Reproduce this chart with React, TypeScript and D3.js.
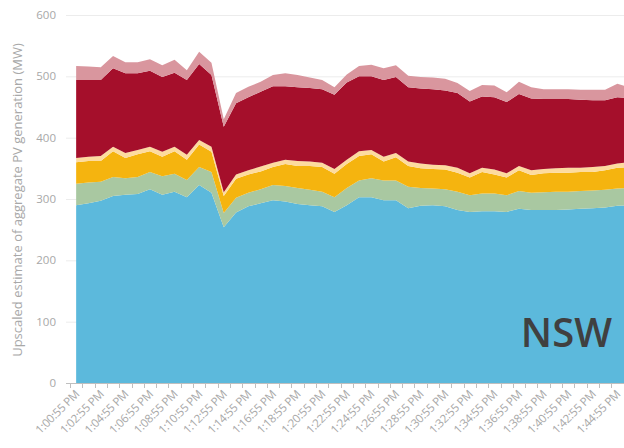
import * as d3 from 'd3';
import React, { useEffect, useRef } from 'react';

// one sample per minute
const times = [
	'1:00:55 PM', '1:01:55 PM', '1:02:55 PM', '1:03:55 PM', '1:04:55 PM', '1:05:55 PM',
	'1:06:55 PM', '1:07:55 PM', '1:08:55 PM', '1:09:55 PM', '1:10:55 PM', '1:11:55 PM',
	'1:12:55 PM', '1:13:55 PM', '1:14:55 PM', '1:15:55 PM', '1:16:55 PM', '1:17:55 PM',
	'1:18:55 PM', '1:19:55 PM', '1:20:55 PM', '1:21:55 PM', '1:22:55 PM', '1:23:55 PM',
	'1:24:55 PM', '1:25:55 PM', '1:26:55 PM', '1:27:55 PM', '1:28:55 PM', '1:29:55 PM',
	'1:30:55 PM', '1:31:55 PM', '1:32:55 PM', '1:33:55 PM', '1:34:55 PM', '1:35:55 PM',
	'1:36:55 PM', '1:37:55 PM', '1:38:55 PM', '1:39:55 PM', '1:40:55 PM', '1:41:55 PM',
	'1:42:55 PM', '1:43:55 PM', '1:44:55 PM', '1:45:55 PM',
];

// stacked layers, bottom to top (MW)
const blue = [
	290, 293, 297, 305, 307, 308, 316, 307, 312, 303, 323, 310, 254, 278, 288, 293,
	298, 296, 292, 290, 288, 279, 290, 303, 303, 298, 298, 285, 289, 290, 288, 282,
	279, 280, 280, 279, 284, 282, 282, 282, 283, 284, 285, 286, 289, 290,
];
const green = [
	35, 34, 31, 31, 27, 28, 28, 30, 29, 28, 29, 34, 23, 24, 22, 23,
	25, 25, 26, 25, 24, 24, 28, 27, 31, 32, 32, 35, 29, 27, 28, 30,
	27, 29, 29, 27, 29, 28, 29, 30, 29, 29, 29, 29, 28, 28,
];
const orange = [
	35, 35, 34, 42, 33, 37, 34, 32, 37, 33, 37, 33, 28, 31, 30, 29,
	29, 36, 36, 39, 40, 38, 39, 40, 39, 31, 38, 34, 32, 32, 32, 31,
	29, 35, 31, 29, 34, 29, 31, 31, 31, 31, 30, 32, 34, 34,
];
const peach = [
	7, 7, 8, 7, 8, 7, 7, 8, 7, 8, 7, 8, 6, 7, 7, 8,
	7, 7, 8, 7, 7, 8, 7, 8, 7, 8, 7, 7, 8, 7, 7, 8,
	7, 7, 8, 7, 7, 8, 7, 7, 8, 7, 8, 7, 7, 8,
];
const red = [
	127, 125, 124, 128, 130, 125, 124, 122, 121, 122, 124, 117, 107, 116, 119, 122,
	125, 120, 120, 120, 120, 121, 126, 122, 120, 125, 124, 121, 122, 123, 122, 122,
	117, 116, 118, 116, 117, 117, 114, 113, 112, 111, 109, 107, 108, 104,
];
const pink = [
	23, 22, 21, 20, 18, 18, 19, 19, 21, 16, 20, 20, 12, 17, 17, 16,
	18, 21, 20, 17, 15, 12, 13, 17, 19, 19, 19, 19, 19, 19, 19, 16,
	17, 19, 19, 16, 20, 18, 16, 16, 16, 16, 17, 17, 22, 18,
];

const layerKeys = ['blue', 'green', 'orange', 'peach', 'red', 'pink'];
const layerColors = ['#5cb9dc', '#a9c8a1', '#f5b40f', '#fddb9f', '#a50f2b', '#d9969e'];
const yTicks = [0, 100, 200, 300, 400, 500, 600];

export default function App() {
	const ref = useRef<SVGSVGElement>(null);
	const width = 624;
	const height = 448;

	useEffect(() => {
		const rows = times.map((t, i) => ({
			time: t,
			blue: blue[i],
			green: green[i],
			orange: orange[i],
			peach: peach[i],
			red: red[i],
			pink: pink[i],
		}));

		const svg = d3.select(ref.current);
		svg.selectAll('*').remove();

		const x: any = d3
			.scaleBand()
			.domain(times)
			.range([70, 70 + times.length * 12.3])
			.padding(0);
		const cx = (t: string) => x(t) + x.bandwidth() / 2;
		const y = d3.scaleLinear().domain([0, 600]).range([383, 15]);

		// gridlines
		svg.append('g')
			.selectAll('line')
			.data(yTicks.slice(1))
			.join('line')
			.attr('x1', 66)
			.attr('x2', width)
			.attr('y1', (d: any) => y(d) + 0.5)
			.attr('y2', (d: any) => y(d) + 0.5)
			.attr('stroke', '#ececec');

		const series = d3.stack().keys(layerKeys)(rows as any);
		const area = d3
			.area<any>()
			.x((d: any) => cx(d.data.time))
			.y0((d: any) => y(d[0]))
			.y1((d: any) => y(d[1]));

		svg.append('g')
			.selectAll('path')
			.data(series)
			.join('path')
			.attr('fill', (d: any, i: number) => layerColors[i])
			.attr('d', area as any);

		// y labels
		svg.append('g')
			.attr('font-family', '"Open Sans", sans-serif')
			.attr('font-size', 11.5)
			.attr('fill', '#a8a8a8')
			.attr('text-anchor', 'end')
			.selectAll('text')
			.data(yTicks)
			.join('text')
			.attr('x', 56)
			.attr('y', (d: any) => y(d))
			.attr('dy', '0.35em')
			.text((d: any) => d);

		svg.append('text')
			.attr('transform', `translate(22,${y(300) + 1}) rotate(-90)`)
			.attr('text-anchor', 'middle')
			.attr('font-family', '"Open Sans", sans-serif')
			.attr('font-size', 13)
			.attr('fill', '#a8a8a8')
			.text('Upscaled estimate of aggregate PV generation (MW)');

		// x axis
		svg.append('line')
			.attr('x1', 66)
			.attr('x2', width)
			.attr('y1', 383.5)
			.attr('y2', 383.5)
			.attr('stroke', '#bfbfbf');
		svg.append('g')
			.selectAll('line')
			.data(times)
			.join('line')
			.attr('x1', (d: any) => Math.round(x(d)) + 0.5)
			.attr('x2', (d: any) => Math.round(x(d)) + 0.5)
			.attr('y1', 383)
			.attr('y2', 388)
			.attr('stroke', '#bfbfbf');

		svg.append('g')
			.attr('font-family', '"Open Sans", sans-serif')
			.attr('font-size', 11.5)
			.attr('letter-spacing', -0.3)
			.attr('fill', '#a8a8a8')
			.attr('text-anchor', 'end')
			.selectAll('text')
			.data(times.filter((t, i) => i % 2 === 0))
			.join('text')
			.attr('transform', (d: any) => `translate(${cx(d) + 1},${392}) rotate(-45)`)
			.attr('dy', '0.35em')
			.text((d: any) => d);

		svg.append('text')
			.attr('x', 612)
			.attr('y', 347)
			.attr('text-anchor', 'end')
			.attr('font-family', '"Open Sans", sans-serif')
			.attr('font-weight', 600)
			.attr('font-size', 40)
			.attr('fill', '#404040')
			.text('NSW');
	}, []);

	return (
		<svg
			ref={ref}
			width={width}
			height={height}
			style={{ position: 'absolute', left: 0, top: 0, background: '#fff' }}
		/>
	);
}
